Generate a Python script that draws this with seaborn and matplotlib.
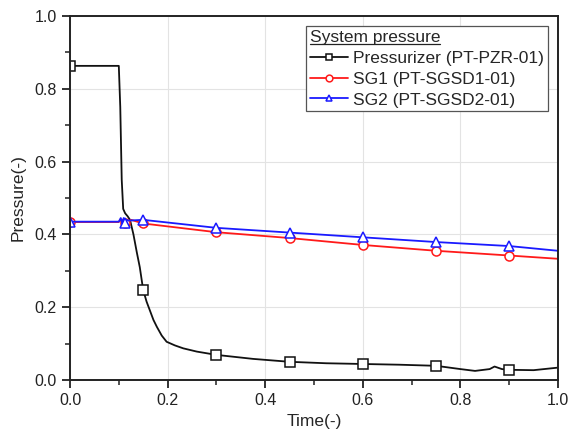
import matplotlib
matplotlib.use("Agg")
import matplotlib.pyplot as plt
import pandas as pd
import seaborn as sns
from matplotlib.lines import Line2D

# data
t_pzr = [0, 0.05, 0.1, 0.103, 0.106, 0.109, 0.113, 0.118, 0.123, 0.13, 0.137, 0.143, 0.15,
         0.157, 0.164, 0.171, 0.178, 0.188, 0.198, 0.215, 0.232, 0.26, 0.3, 0.375, 0.45,
         0.525, 0.6, 0.675, 0.75, 0.8, 0.83, 0.86, 0.87, 0.885, 0.9, 0.95, 1.0]
p_pzr = [0.863, 0.863, 0.863, 0.75, 0.55, 0.47, 0.458, 0.45, 0.44, 0.40, 0.35, 0.31, 0.247,
         0.215, 0.19, 0.165, 0.146, 0.122, 0.105, 0.095, 0.087, 0.078, 0.069, 0.058, 0.05,
         0.046, 0.044, 0.042, 0.039, 0.03, 0.025, 0.03, 0.037, 0.03, 0.028, 0.027, 0.034]

t_sg1 = [0, 0.1, 0.104, 0.107, 0.110, 0.113, 0.116, 0.12, 0.125, 0.15, 0.3, 0.45, 0.6, 0.75, 0.9, 1.0]
p_sg1 = [0.434, 0.434, 0.442, 0.428, 0.442, 0.43, 0.44, 0.434, 0.44, 0.43, 0.406, 0.39, 0.371,
         0.355, 0.342, 0.333]

t_sg2 = [0, 0.1, 0.104, 0.107, 0.110, 0.113, 0.116, 0.12, 0.15, 0.3, 0.45, 0.6, 0.75, 0.9, 1.0]
p_sg2 = [0.435, 0.435, 0.445, 0.43, 0.445, 0.432, 0.44, 0.438, 0.44, 0.418, 0.405, 0.392,
         0.379, 0.368, 0.355]

labels = ["Pressurizer (PT-PZR-01)", "SG1 (PT-SGSD1-01)", "SG2 (PT-SGSD2-01)"]

sns.set_style("ticks")
plt.rcParams['font.family'] = ['Liberation Sans', 'DejaVu Sans']

fig = plt.figure(figsize=(5.74, 4.29), dpi=100)
ax = fig.add_axes([70 / 574, 1 - 380 / 429, 488 / 574, 364 / 429])


def marks(ts, targets):
    # indices of the points that carry a marker
    return [i for i, t in enumerate(ts) if any(abs(t - g) < 1e-9 for g in targets)]


mk_times = [0, 0.15, 0.3, 0.45, 0.6, 0.75, 0.9]

series = [
    (t_pzr, p_pzr, labels[0], "#111111", "s", marks(t_pzr, mk_times)),
    (t_sg1, p_sg1, labels[1], "#ff1a1a", "o", marks(t_sg1, mk_times + [0.113])),
    (t_sg2, p_sg2, labels[2], "#1a1aff", "^", marks(t_sg2, mk_times + [0.113])),
]

for ts, ps, lab, col, mk, every in series:
    df = pd.DataFrame({"t": ts, "p": ps})
    sns.lineplot(data=df, x="t", y="p", ax=ax, sort=False, estimator=None,
                 color=col, linewidth=1.3, marker=mk, markersize=6.5,
                 markerfacecolor="white", markeredgecolor=col, markeredgewidth=1.1,
                 markevery=every, label=lab)

for ln in ax.get_lines():
    ln.set_clip_on(True)
    ln.set_clip_box(ax.bbox)

ax.set_xlim(0, 1.0)
ax.set_ylim(0, 1.0)
ax.set_xticks([0, 0.2, 0.4, 0.6, 0.8, 1.0])
ax.set_yticks([0, 0.2, 0.4, 0.6, 0.8, 1.0])
ax.set_xticks([0.1, 0.3, 0.5, 0.7, 0.9], minor=True)
ax.set_yticks([0.1, 0.3, 0.5, 0.7, 0.9], minor=True)
ax.grid(True, which="major", color="#e3e3e3", linewidth=0.8)
ax.set_axisbelow(True)

for s in ax.spines.values():
    s.set_visible(True)
    s.set_linewidth(1.4)
    s.set_color("#222222")
ax.tick_params(which="major", direction="out", length=6, width=1.3, labelsize=11.5,
               colors="#222222", top=False, right=False)
ax.tick_params(which="minor", direction="out", length=3.5, width=1.1, colors="#222222",
               top=False, right=False)
ax.set_xlabel("Time(-)", fontsize=12.5, labelpad=4)
ax.set_ylabel("Pressure(-)", fontsize=12.5, labelpad=6)

leg = ax.legend(title="System pressure", loc="upper right", fontsize=12.5, title_fontsize=12.5,
                frameon=True, fancybox=False, edgecolor="#555555", framealpha=1,
                borderpad=0.2, labelspacing=0.33, handlelength=2.2, handletextpad=0.3,
                borderaxespad=0.6, alignment="left", markerscale=0.75)
leg.get_frame().set_linewidth(0.9)

# underline the legend title
fig.canvas.draw()
bb = leg.get_title().get_window_extent().transformed(fig.transFigure.inverted())
fig.add_artist(Line2D([bb.x0, bb.x1], [bb.y0 + 0.002, bb.y0 + 0.002],
                      transform=fig.transFigure, color="#222222", linewidth=0.9))

fig.savefig("out.png", dpi=100)
